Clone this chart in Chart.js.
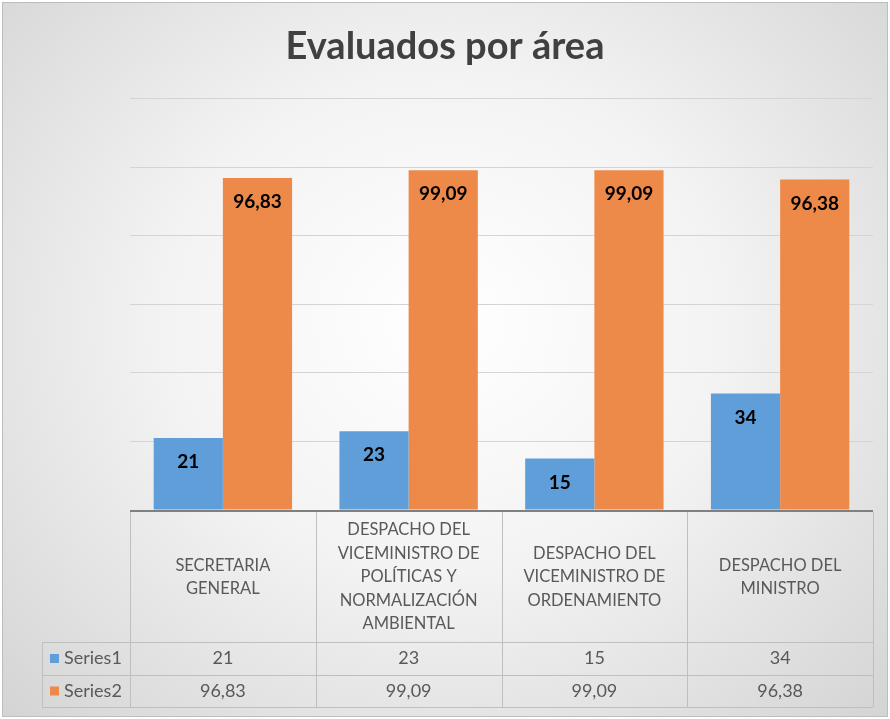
<!DOCTYPE html>
<html>
<head>
<meta charset="utf-8">
<script src="https://cdn.jsdelivr.net/npm/chart.js@4.4.1/dist/chart.umd.min.js"></script>
<style>
  html, body { margin: 0; padding: 0; }
  body { width: 890px; height: 719px; overflow: hidden; }
  .frame {
    position: absolute; left: 2px; top: 2px; width: 884px; height: 713px;
    border: 1px solid #bdbdbd;
    background: radial-gradient(ellipse at 50% 45%, #ffffff 0%, #f3f3f3 45%, #d4d4d4 100%);
  }
  canvas { position: absolute; left: 0; top: 0; }
</style>
</head>
<body>
<div class="frame"></div>
<canvas id="c" width="890" height="719"></canvas>
<script>
// Evaluados por área: barras agrupadas con tabla de datos al pie (estilo Excel)

const categorias = [
  ["SECRETARIA", "GENERAL"],
  ["DESPACHO DEL", "VICEMINISTRO DE", "POLÍTICAS Y", "NORMALIZACIÓN", "AMBIENTAL"],
  ["DESPACHO DEL", "VICEMINISTRO DE", "ORDENAMIENTO"],
  ["DESPACHO DEL", "MINISTRO"]
];
const nombresSeries = ["Series1", "Series2"];
const series1 = [21, 23, 15, 34];
const series2 = [96.83, 99.09, 99.09, 96.38];
const yMin = 0, yMax = 120, yPaso = 20;

const colores = ["#5f9ed8", "#ed8a4a"];
const FONT = "Lato, 'Open Sans', sans-serif";
const fmt = (v) => String(v).replace(".", ",");

// Tabla de datos bajo el eje x
const tablaDatos = {
  id: "tablaDatos",
  afterDraw(chart) {
    const { ctx, chartArea: a } = chart;
    const n = categorias.length;
    const w = (a.right - a.left) / n;
    const yHead = a.bottom + 2, yR1 = 642, yR2 = 675, yEnd = 707, xLeft = 42;
    ctx.save();
    ctx.strokeStyle = "#bfbfbf";
    ctx.lineWidth = 1;
    ctx.beginPath();
    for (let i = 0; i <= n; i++) {
      const x = Math.round(a.left + i * w) + 0.5;
      ctx.moveTo(x, yHead); ctx.lineTo(x, yEnd);
    }
    ctx.moveTo(xLeft + 0.5, yR1); ctx.lineTo(xLeft + 0.5, yEnd);
    [yR1, yR2, yEnd].forEach(y => { ctx.moveTo(xLeft, y + 0.5); ctx.lineTo(a.right, y + 0.5); });
    ctx.stroke();

    // línea base
    ctx.strokeStyle = "#808080";
    ctx.lineWidth = 2;
    ctx.beginPath();
    ctx.moveTo(a.left, a.bottom + 1); ctx.lineTo(a.right, a.bottom + 1);
    ctx.stroke();

    ctx.fillStyle = "#595959";
    ctx.textAlign = "center";
    ctx.textBaseline = "middle";
    ctx.font = "16.5px " + FONT;
    const lh = 23.5;
    const cy = (yHead + yR1) / 2;
    categorias.forEach((lines, i) => {
      const cx = a.left + (i + 0.5) * w;
      lines.forEach((t, j) => ctx.fillText(t, cx, cy + (j - (lines.length - 1) / 2) * lh));
    });

    ctx.font = "18px " + FONT;
    [series1, series2].forEach((s, k) => {
      const y = (k === 0 ? (yR1 + yR2) : (yR2 + yEnd)) / 2;
      s.forEach((v, i) => ctx.fillText(fmt(v), a.left + (i + 0.5) * w, y));
      ctx.fillStyle = colores[k];
      ctx.fillRect(50, y - 4.5, 9, 9);
      ctx.fillStyle = "#595959";
      ctx.textAlign = "left";
      ctx.fillText(nombresSeries[k], 64, y);
      ctx.textAlign = "center";
    });
    ctx.restore();
  }
};

// Etiquetas dentro del extremo de cada barra
const etiquetas = {
  id: "etiquetas",
  afterDatasetsDraw(chart) {
    const { ctx } = chart;
    ctx.save();
    ctx.fillStyle = "#000";
    ctx.textAlign = "center";
    ctx.textBaseline = "middle";
    ctx.font = "bold 19px " + FONT;
    chart.data.datasets.forEach((ds, di) => {
      chart.getDatasetMeta(di).data.forEach((bar, i) => {
        ctx.fillText(fmt(ds.data[i]), bar.x, bar.y + 24);
      });
    });
    ctx.restore();
  }
};

new Chart(document.getElementById("c"), {
  type: "bar",
  data: {
    labels: categorias,
    datasets: [
      { label: nombresSeries[0], data: series1, backgroundColor: colores[0] },
      { label: nombresSeries[1], data: series2, backgroundColor: colores[1] }
    ]
  },
  options: {
    responsive: false,
    animation: false,
    layout: { padding: { left: 0, right: 0, top: 0, bottom: 209 } },
    categoryPercentage: 0.745,
    barPercentage: 1.0,
    plugins: {
      legend: { display: false },
      tooltip: { enabled: false },
      title: {
        display: true,
        text: "Evaluados por área",
        color: "#404040",
        font: { family: FONT, size: 38, weight: "bold" },
        padding: { top: 24, bottom: 29 }
      }
    },
    scales: {
      x: { display: false },
      y: {
        min: yMin, max: yMax,
        ticks: { display: false, stepSize: yPaso },
        border: { display: false },
        grid: { color: "#d4d4d4", lineWidth: 1, drawTicks: false },
        afterFit: (s) => { s.width = 130; }
      },
      yDer: {
        position: "right",
        min: yMin, max: yMax,
        ticks: { display: false },
        border: { display: false },
        grid: { display: false },
        afterFit: (s) => { s.width = 17; }
      }
    }
  },
  plugins: [tablaDatos, etiquetas]
});
</script>
</body>
</html>
